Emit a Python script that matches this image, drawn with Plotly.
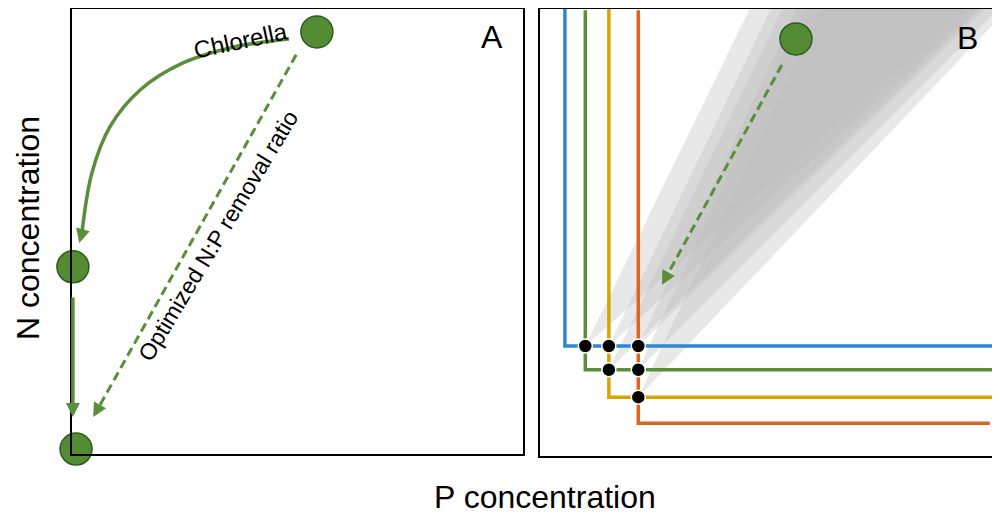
import plotly.graph_objects as go

# colours
DOT_GREEN = "#548c34"
DOT_EDGE = "#2f5a1e"
ARROW_GREEN = "#5a8e3a"
LINE_COLORS = ["#2f86d6", "#5b8e36", "#d9a400", "#e0641e"]
FONT = "Liberation Sans, Arial, sans-serif"

# ---- panel A (P and N in arbitrary units) ----
a_dot_x = [54.3, 0.2, 0.9]
a_dot_y = [93.8, 41.6, 1.1]
curve_x = [48.1, 35.7, 24.6, 15.1, 8.4, 4.4, 2.2]
curve_y = [92.2, 90.4, 86.9, 80.9, 72.7, 62.4, 49.1]
curve_tip = (1.6, 46.9)
drop_start, drop_tip = (0.2, 35.1), (0.2, 8.2)
ratio_start, ratio_tip = (49.7, 88.7), (4.7, 8.2)

# ---- panel B ----
p_limits = [5.5, 10.0, 15.2, 21.7]      # P threshold of each species
n_limits = [24.5, 19.2, 13.1, 7.3]      # N threshold of each species
line_tops = [100.5, 99.3, 99.8, 99.3]
line_ends = [100, 100, 100, 99.3]
wedge_steep = [2.07, 2.1, 2.15, 2.1, 2.2, 2.15]   # N:P slope, upper bound
wedge_flat = [0.89, 0.92, 0.98, 0.98, 1.01, 1.06]  # N:P slope, lower bound
b_dot = (56.5, 92.9)
b_start, b_tip = (53.4, 87.1), (26.9, 38.1)

# page body has an 8px margin, so the figure is drawn 8px in from the corner
W, H, OFF = 992, 508, 8


def xdom(p0, p1):
    return [(p0 - OFF) / W, (p1 - OFF) / W]


def ydom(top, bottom):
    return [1 - (bottom - OFF) / H, 1 - (max(top, OFF + 1) - OFF) / H]


fig = go.Figure()

# intersections of the threshold lines (co-limitation points)
cross = [(p_limits[j], n_limits[i]) for i in range(4) for j in range(i + 1, 4)]

# grey wedges of optimal N:P ratios
for (x0, y0), s1, s2 in zip(cross, wedge_steep, wedge_flat):
    fig.add_trace(go.Scatter(
        x=[x0, x0 + 130 / s1, x0 + 130 / s2, x0],
        y=[y0, y0 + 130, y0 + 130, y0],
        xaxis="x2", yaxis="y2", mode="lines", fill="toself",
        fillcolor="rgba(188,188,188,0.34)", line=dict(width=0),
    ))

# threshold lines
for px, ny, top, end, col in zip(p_limits, n_limits, line_tops, line_ends, LINE_COLORS):
    fig.add_trace(go.Scatter(
        x=[px, px, end], y=[top, ny, ny], xaxis="x2", yaxis="y2",
        mode="lines", line=dict(color=col, width=3.5), cliponaxis=False,
    ))

fig.add_trace(go.Scatter(
    x=[c[0] for c in cross], y=[c[1] for c in cross], xaxis="x2", yaxis="y2",
    mode="markers", marker=dict(size=14, color="black", line=dict(color="white", width=1.5)),
    cliponaxis=False,
))


def head_base(start, tip, k):
    return (tip[0] + (start[0] - tip[0]) * k, tip[1] + (start[1] - tip[1]) * k)


# dashed arrows (line part)
ratio_base = head_base(ratio_start, ratio_tip, 0.03)
b_base = head_base(b_start, b_tip, 0.05)
fig.add_trace(go.Scatter(
    x=[ratio_start[0], ratio_base[0]], y=[ratio_start[1], ratio_base[1]],
    mode="lines", line=dict(color=ARROW_GREEN, width=3, dash="9px,5px"),
))
fig.add_trace(go.Scatter(
    x=[b_start[0], b_base[0]], y=[b_start[1], b_base[1]], xaxis="x2", yaxis="y2",
    mode="lines", line=dict(color=ARROW_GREEN, width=3, dash="9px,5px"),
))

# Chlorella pathway curve
fig.add_trace(go.Scatter(
    x=curve_x, y=curve_y, mode="lines",
    line=dict(color=ARROW_GREEN, width=3.5, shape="spline"),
))

# green state dots
fig.add_trace(go.Scatter(
    x=a_dot_x, y=a_dot_y, mode="markers", cliponaxis=False,
    marker=dict(size=32, color=DOT_GREEN, line=dict(color=DOT_EDGE, width=1.5)),
))
fig.add_trace(go.Scatter(
    x=[b_dot[0]], y=[b_dot[1]], xaxis="x2", yaxis="y2", mode="markers", cliponaxis=False,
    marker=dict(size=32, color=DOT_GREEN, line=dict(color=DOT_EDGE, width=1.5)),
))

arrow = dict(text="", showarrow=True, arrowhead=2, arrowsize=0.8, arrowwidth=3.5,
             arrowcolor=ARROW_GREEN, standoff=0)
ann = [
    dict(x=curve_tip[0], y=curve_tip[1], ax=curve_x[-1], ay=curve_y[-1],
         xref="x", yref="y", axref="x", ayref="y", **arrow),
    dict(x=drop_tip[0], y=drop_tip[1], ax=drop_start[0], ay=drop_start[1],
         xref="x", yref="y", axref="x", ayref="y", **arrow),
    dict(x=ratio_tip[0], y=ratio_tip[1], ax=ratio_base[0], ay=ratio_base[1],
         xref="x", yref="y", axref="x", ayref="y", **arrow),
    dict(x=b_tip[0], y=b_tip[1], ax=b_base[0], ay=b_base[1],
         xref="x2", yref="y2", axref="x2", ayref="y2", **arrow),
    dict(x=37.3, y=91.8, xref="x", yref="y", text="Chlorella", showarrow=False,
         textangle=-12, font=dict(size=24, color="black", family=FONT)),
    dict(x=32.4, y=48.4, xref="x", yref="y", text="Optimized N:P removal ratio",
         showarrow=False, textangle=-59, font=dict(size=23, color="black", family=FONT)),
    dict(x=93.1, y=92.7, xref="x", yref="y", text="A", showarrow=False,
         font=dict(size=32, color="black", family=FONT)),
    dict(x=94.3, y=93.1, xref="x2", yref="y2", text="B", showarrow=False,
         font=dict(size=32, color="black", family=FONT)),
    dict(x=0, y=1 - (228 - OFF) / H, xref="paper", yref="paper",
         xanchor="left", yanchor="middle", text="N concentration",
         showarrow=False, textangle=-90, font=dict(size=32, color="black", family=FONT)),
    dict(x=(545 - OFF) / W, y=1 - (497 - OFF) / H, xref="paper", yref="paper",
         xanchor="center", yanchor="middle", text="P concentration",
         showarrow=False, font=dict(size=32, color="black", family=FONT)),
]

box = dict(showgrid=False, zeroline=False, showticklabels=False,
           ticks="", showline=True, mirror=True, linecolor="black", linewidth=2,
           fixedrange=True)
fig.update_layout(
    width=W, height=H, margin=dict(l=0, r=0, t=0, b=0),
    paper_bgcolor="white", plot_bgcolor="white", showlegend=False, hovermode=False,
    xaxis=dict(domain=xdom(72, 523), range=[0, 100], **box),
    yaxis=dict(domain=ydom(4, 454), range=[0, (454 - 9) / 4.5], **box),
    xaxis2=dict(domain=xdom(540, 993), range=[0, 100], anchor="y2", **box),
    yaxis2=dict(domain=ydom(7, 456), range=[0, (456 - 9) / 4.49], anchor="x2", **box),
    annotations=ann,
)

fig.write_html("out.html")
